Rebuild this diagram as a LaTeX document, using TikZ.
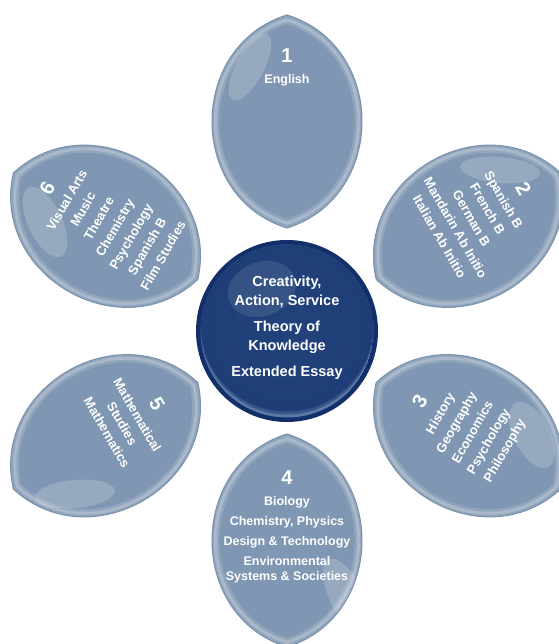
\documentclass[tikz,border=0pt]{standalone}
\usepackage{fontspec}
\setmainfont{Liberation Sans}
\usetikzlibrary{calc}
\definecolor{petalbase}{HTML}{7F97B2}
\definecolor{petaledge}{HTML}{7891AD}
\definecolor{navyring}{HTML}{132F69}
\definecolor{navymid}{HTML}{1F3E77}
\definecolor{navyinner}{HTML}{22427B}
\definecolor{navyrim}{HTML}{5C78A6}
\newcommand\petalpath{(103,0) .. controls (134,100) and (285,100) .. (316,0) .. controls (285,-100) and (134,-100) .. (103,0) -- cycle}
\newcommand\drawpetal[6]{%
\begin{scope}[shift={(287,313)},rotate=#1]
 \fill[petalbase] \petalpath;
 \begin{scope}
  \clip \petalpath;
  \begin{scope}[shift={(209.5,0)},scale=0.955,shift={(-209.5,0)}]
   \draw[white,opacity=.14,line width=8] \petalpath;
   \draw[white,opacity=.22,line width=3] \petalpath;
  \end{scope}
  \fill[white,opacity=.18,reset cm,rotate around={#6:(#2,#3)}] (#2,#3) ellipse (#4 and #5);
 \end{scope}
 \draw[petaledge,line width=1] \petalpath;
\end{scope}}
\newcommand\pdigit[1]{{\fontsize{20}{18.5}\selectfont #1}}
\tikzset{
 ptext/.style={text=white,font=\bfseries\fontsize{13}{18.5}\selectfont,align=center,inner sep=0pt},
 ftext/.style={text=white,font=\bfseries\fontsize{12.5}{15}\selectfont,align=center,inner sep=0pt},
 ctext/.style={text=white,font=\bfseries\fontsize{14.5}{19}\selectfont,align=center,inner sep=0pt}
}
\begin{document}
\begin{tikzpicture}[x=1pt,y=1pt]
\useasboundingbox (0,0) rectangle (558,644);
% petals
\drawpetal{90}{250}{577}{37}{14}{62}
\drawpetal{30}{500}{474}{40}{13}{-5}
\drawpetal{-30}{532}{209}{36}{18}{-63}
\drawpetal{-90}{347}{47}{42}{17}{-64}
\drawpetal{-150}{75}{150}{40}{14}{5}
\drawpetal{150}{45}{422}{38}{17}{-65}
% centre circle
\fill[navyring] (287,313) circle (91);
\begin{scope}
 \clip (287,313) circle (86.5);
 \fill[navyrim] (287,313) circle (86.5);
 \fill[navymid,opacity=.6] (287,316) circle (86.5);
 \shade[inner color=navyinner,outer color=navymid] (287,319) circle (86.5);
 \fill[white,opacity=.1,rotate around={20:(262,355)}] (262,355) ellipse (35 and 27);
\end{scope}
% texts
\node[ftext] (p1) at (287,577) {\pdigit{1}\\[6pt]English};
\node[ptext,rotate=-60] (p2) at (482.5,432) {\pdigit{2}\\[2pt]Spanish B\\French B\\German B\\Mandarin Ab Initio\\Italian Ab Initio};
\node[ptext,rotate=60] (p3) at (462,218) {\pdigit{3}\\[3pt]History\\Geography\\Economics\\Psychology\\Philosophy};
\node[ftext] (p4) at (287,117) {\pdigit{4}\\[6pt]Biology\\[5pt]Chemistry, Physics\\[5pt]Design \& Technology\\[5pt]Environmental\\Systems \& Societies};
\node[ptext,rotate=-60,font=\bfseries\fontsize{13}{17.5}\selectfont] (p5) at (133,226.5) {\pdigit{5}\\[3pt]Mathematical\\Studies\\Mathematics};
\node[ptext,rotate=60] (p6) at (104,422.5) {\pdigit{6}\\[2pt]Visual Arts\\Music\\Theatre\\Chemistry\\Psychology\\Spanish B\\Film Studies};
\node[ctext] (core) at (287,316) {Creativity,\\Action, Service\\[7pt]Theory of\\Knowledge\\[7pt]Extended Essay};
\end{tikzpicture}
\end{document}
